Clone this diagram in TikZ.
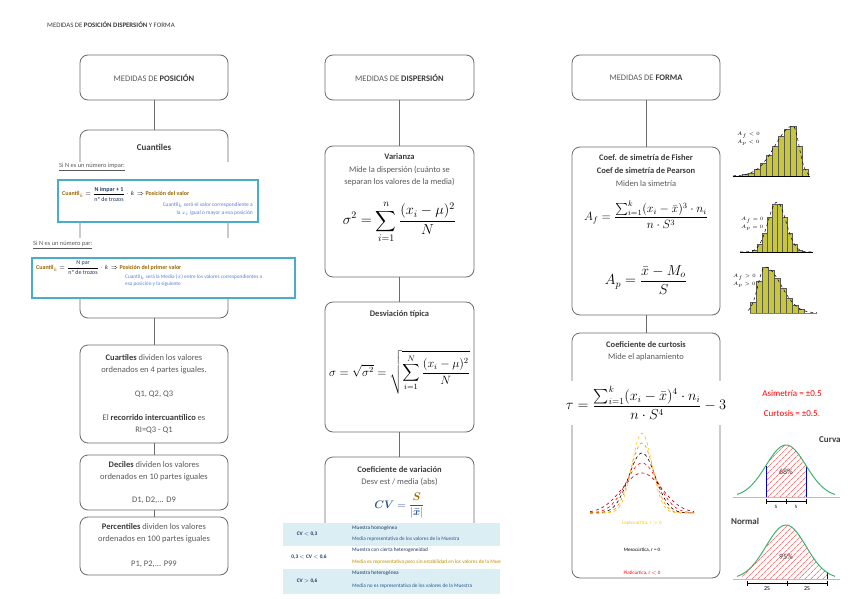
\documentclass[tikz,border=0pt]{standalone}
\usepackage{fontspec}
\setmainfont{Carlito}
\usepackage{amsmath}
\usetikzlibrary{patterns.meta}
\definecolor{bx}{HTML}{6B6B6B}
\definecolor{tg}{HTML}{595959}
\definecolor{td}{HTML}{3A3A3A}
\definecolor{bl}{HTML}{4BACC6}
\definecolor{navy}{HTML}{1F3864}
\definecolor{gold}{HTML}{9C6500}
\definecolor{lblue}{HTML}{5B7FD6}
\definecolor{cvb}{HTML}{2F5597}
\definecolor{lb}{HTML}{DAEEF3}
\definecolor{olv}{HTML}{C8C63A}
\definecolor{grn}{HTML}{3CB371}
\definecolor{amber}{HTML}{FFC000}
\definecolor{dgold}{HTML}{C09000}
\begin{document}
\begin{tikzpicture}[x=1pt,y=-1pt,
  mbox/.style={draw=bx,line width=0.8pt,rounded corners=8pt,inner sep=0pt,align=center,text=tg,font=\fontsize{8.5}{12}\selectfont},
  txt/.style={text=tg,font=\fontsize{8.5}{12}\selectfont,align=center,inner sep=0pt},
  hd/.style={text=td,font=\fontsize{8.5}{12}\selectfont\bfseries,inner sep=0pt,align=center},
  conn/.style={draw=bx,line width=0.8pt},
  fml/.style={inner sep=0pt,text=black},
  bbox/.style={draw=bl,line width=2.2pt,fill=white,inner sep=0pt},
  tiny/.style={inner sep=0pt,font=\fontsize{5}{6}\selectfont},
  tabc/.style={inner sep=0pt,font=\fontsize{5.3}{6}\selectfont,anchor=west},
  bar/.style={fill=olv,draw=black!65,line width=0.3pt},
  hcurve/.style={dashed,line width=0.5pt,black},
  kc/.style={dashed,line width=0.6pt},
]
\useasboundingbox (0,0) rectangle (848,599);
\clip (0,0) rectangle (848,599);

% title
\node[anchor=west,inner sep=0pt,font=\fontsize{6.8}{7}\selectfont,text=td] (ttl) at (47,25) {MEDIDAS DE \textbf{POSICIÓN DISPERSIÓN} Y FORMA};

% top boxes
\node[mbox,minimum width=148pt,minimum height=45pt] (pos) at (154,77.5) {MEDIDAS DE {\bfseries\color{td}POSICIÓN}};
\node[mbox,minimum width=149pt,minimum height=45pt] (dis) at (399.5,77.5) {MEDIDAS DE {\bfseries\color{td}DISPERSIÓN}};
\node[mbox,minimum width=148pt,minimum height=45pt] (for) at (646,77.5) {MEDIDAS DE {\bfseries\color{td}FORMA}};

% ---------- POSICION column
\node[mbox,minimum width=148pt,minimum height=188pt] (cua) at (154,224) {};
\draw[conn] (pos) -- (cua);
\node[hd,font=\fontsize{9}{11}\selectfont\bfseries] (cuat) at (154,147) {Cuantiles};
\fill[white] (74,162) rectangle (234,223);
\fill[white] (74,238) rectangle (234,298);

\node[tiny,anchor=west,text=tg,font=\fontsize{6.4}{7}\selectfont] (si1) at (59,167) {\underline{Si N es un número impar:}};
\node[bbox,minimum width=200pt,minimum height=42pt] (bb1) at (158,201) {};
\node[tiny,anchor=west,font=\fontsize{6}{7}\selectfont] (f1) at (62,194) {{\color{gold}\bfseries Cuantil$_k$} $=\dfrac{\textbf{\color{navy}N impar + 1}}{\text{\color{navy}nº de trozos}}\cdot k\Rightarrow$ {\color{gold}\bfseries Posición del valor}};
\node[tiny,anchor=east,align=right,text=lblue,font=\fontsize{5.5}{8}\selectfont] (f1b) at (253,209) {Cuantil$_k$ será el valor correspondiente a\\la $x_i$ igual o mayor a esa posición};

\node[tiny,anchor=west,text=tg,font=\fontsize{6.4}{7}\selectfont] (si2) at (33,245) {\underline{Si N es un número par:}};
\node[bbox,minimum width=263pt,minimum height=40pt] (bb2) at (163.5,278) {};
\node[tiny,anchor=west,font=\fontsize{6}{7}\selectfont] (f2) at (36,268) {{\color{gold}\bfseries Cuantil$_k$} $=\dfrac{\text{\color{navy}N par}}{\text{\color{navy}nº de trozos}}\cdot k\Rightarrow$ {\color{gold}\bfseries Posición del primer valor}};
\node[tiny,anchor=north west,align=left,text=lblue,font=\fontsize{5.3}{7.5}\selectfont] (f2b) at (125,274) {Cuantil$_k$ será la Media ($\bar{x}$) entre los valores correspondientes a\\esa posición y la siguiente};

\node[mbox,minimum width=148pt,minimum height=98pt] (cuar) at (154,394) {{\bfseries\color{td}Cuartiles} dividen los valores\\ordenados en 4 partes iguales.\\[12pt]Q1, Q2, Q3\\[12pt]El {\bfseries\color{td}recorrido intercuantílico} es\\RI=Q3 - Q1};
\node[mbox,minimum width=148pt,minimum height=55pt] (dec) at (154,482.5) {{\bfseries\color{td}Deciles} dividen los valores\\ordenados en 10 partes iguales\\[11pt]D1, D2,... D9};
\node[mbox,minimum width=148pt,minimum height=58pt] (per) at (154,546) {{\bfseries\color{td}Percentiles} dividen los valores\\ordenados en 100 partes iguales\\[13pt]P1, P2,... P99};
\draw[conn] (cua) -- (cuar);
\draw[conn] (cuar) -- (dec);
\draw[conn] (dec) -- (per);

% ---------- DISPERSION column
\node[mbox,minimum width=149pt,minimum height=131pt] (var) at (399.5,211.5) {};
\draw[conn] (dis) -- (var);
\node[hd] (vart) at (399.5,157) {Varianza};
\node[txt] (vars) at (399.5,176.5) {Mide la dispersión (cuánto se\\separan los valores de la media)};
\node[fml,font=\fontsize{14}{16}\selectfont] (varf) at (399.5,222) {$\displaystyle\sigma^2=\sum_{i=1}^{n}\frac{(x_i-\mu)^2}{N}$};

\node[mbox,minimum width=149pt,minimum height=130pt] (des) at (399.5,367) {};
\draw[conn] (var) -- (des);
\node[hd] (dest) at (399.5,314) {Desviación típica};
\node[fml,font=\fontsize{12}{14}\selectfont] (desf) at (399.5,372) {$\sigma=\sqrt{\sigma^2}=\sqrt{\displaystyle\sum_{i=1}^{N}\frac{(x_i-\mu)^2}{N}}$};

\node[mbox,minimum width=149pt,minimum height=103pt] (cv) at (399.5,508.5) {};
\draw[conn] (des) -- (cv);
\node[hd] (cvt) at (399.5,470) {Coeficiente de variación};
\node[txt] (cvs) at (399.5,482) {Desv est / media (abs)};
\node[fml,text=cvb,font=\fontsize{10.5}{12}\selectfont] (cvf) at (399.5,506) {$\boldsymbol{CV}=\dfrac{\textcolor{gold}{\boldsymbol{S}}}{\lvert\boldsymbol{\bar{x}}\rvert}$};

% table
\node[fill=lb,minimum width=217pt,minimum height=23pt,anchor=north west,inner sep=0pt] (r1) at (283,523) {};
\node[fill=white,minimum width=217pt,minimum height=23pt,anchor=north west,inner sep=0pt] (r2) at (283,546) {};
\node[fill=lb,minimum width=217pt,minimum height=25pt,anchor=north west,inner sep=0pt] (r3) at (283,569) {};
\begin{scope}
\clip (283,523) rectangle (500,594);
\node[tabc,anchor=center,text=navy,font=\fontsize{5.3}{6}\selectfont\bfseries] (c1) at (307,534.5) {CV $<$ 0,3};
\node[tabc,anchor=center,text=navy,font=\fontsize{5.3}{6}\selectfont\bfseries] (c2) at (309,557.5) {0,3 $<$ CV $<$ 0,6};
\node[tabc,anchor=center,text=navy,font=\fontsize{5.3}{6}\selectfont\bfseries] (c3) at (307,581) {CV $>$ 0,6};
\node[tabc,text=navy] (d1a) at (352,528) {Muestra homogénea};
\node[tabc,text=cvb] (d1b) at (352,539) {Media representativa de los valores de la Muestra};
\node[tabc,text=navy] (d2a) at (352,550) {Muestra con cierta heterogeneidad};
\node[tabc,text=dgold] (d2b) at (352,562) {Media es representativa pero sin estabilidad en los valores de la Muestra};
\node[tabc,text=navy] (d3a) at (352,573) {Muestra heterogénea};
\node[tabc,text=cvb] (d3b) at (352,586) {Media no es representativa de los valores de la Muestra};
\end{scope}

% ---------- FORMA column
\node[mbox,minimum width=148pt,minimum height=168pt] (fis) at (646,231) {};
\draw[conn] (for) -- (fis);
\node[hd,font=\fontsize{8.5}{13}\selectfont\bfseries] (fist) at (646,164.5) {Coef. de simetría de Fisher\\Coef de simetría de Pearson};
\node[txt] (fiss) at (646,184) {Miden la simetría};
\node[fml,font=\fontsize{12}{14}\selectfont] (fisf) at (646,215) {$A_f=\dfrac{\sum_{i=1}^{k}(x_i-\bar{x})^3\cdot n_i}{n\cdot S^3}$};
\node[fml,font=\fontsize{14.5}{16}\selectfont] (pef) at (646,280) {$A_p=\dfrac{\bar{x}-M_o}{S}$};

\node[mbox,minimum width=148pt,minimum height=245pt] (cur) at (646,455.5) {};
\draw[conn] (fis) -- (cur);
\node[hd] (curt) at (646,345) {Coeficiente de curtosis};
\node[txt] (curs) at (646,357) {Mide el aplanamiento};
\node[fml,fill=white,inner xsep=2pt,inner ysep=5pt,font=\fontsize{13.5}{15}\selectfont] (curf) at (646,403) {$\tau=\dfrac{\sum_{i=1}^{k}(x_i-\bar{x})^4\cdot n_i}{n\cdot S^4}-3$};

% kurtosis curves
\foreach \A/\sg/\cc in {40/20/red!60!black, 50/16/red, 60/13.3/black, 70/11.4/orange, 80/10/amber}{
  \draw[kc,\cc] plot[domain=-52:52,samples=61,smooth] ({642+\x},{513-\A*exp(0-(\x)*(\x)/(2*\sg*\sg))});
}
\node[tiny,text=amber] (lep) at (642,523) {Leptocúrtica, r $>$ 0};
\node[tiny,text=black] (mes) at (642,550) {Mesocúrtica, r = 0};
\node[tiny,text=red] (pla) at (642,573) {Platicúrtica, r $<$ 0};

% histograms
% 1: left skew
\foreach \i in {0,...,10}{
  \pgfmathsetmacro\myx{742+6*\i}
  \pgfmathsetmacro\myd{\myx+3-793}
  \pgfmathsetmacro\mys{ifthenelse(\myd<0,18,6)}
  \pgfmathsetmacro\myh{50*exp(0-\myd*\myd/(2*\mys*\mys))}
  \path[bar] (\myx,176) rectangle ++(6,-\myh);
}
\draw[hcurve] plot[domain=733:793,samples=30,smooth] (\x,{176-50*exp(0-(\x-793)*(\x-793)/648)}) -- plot[domain=793:810,samples=12,smooth] (\x,{176-50*exp(0-(\x-793)*(\x-793)/72)});
\draw[black,line width=0.6pt] (733,176) -- (810,176);
\node[tiny,anchor=west,font=\fontsize{4.5}{5}\selectfont] (h1a) at (737,135) {$A_f<0$};
\node[tiny,anchor=west,font=\fontsize{4.5}{5}\selectfont] (h1b) at (737,143) {$A_p<0$};
% 2: symmetric
\foreach \i in {0,...,9}{
  \pgfmathsetmacro\myx{752+5*\i}
  \pgfmathsetmacro\myd{\myx+2.5-777}
  \pgfmathsetmacro\myh{50*exp(0-\myd*\myd/162)}
  \path[bar] (\myx,252) rectangle ++(5,-\myh);
}
\draw[hcurve] plot[domain=740:813,samples=40,smooth] (\x,{252-50*exp(0-(\x-777)*(\x-777)/162)});
\draw[black,line width=0.6pt] (740,252) -- (813,252);
\node[tiny,anchor=west,font=\fontsize{4.5}{5}\selectfont] (h2a) at (741,220) {$A_f=0$};
\node[tiny,anchor=west,font=\fontsize{4.5}{5}\selectfont] (h2b) at (741,228) {$A_p=0$};
% 3: right skew
\foreach \i in {0,...,8}{
  \pgfmathsetmacro\myx{750+6*\i}
  \pgfmathsetmacro\myd{\myx+3-765}
  \pgfmathsetmacro\mys{ifthenelse(\myd<0,7,16)}
  \pgfmathsetmacro\myh{46*exp(0-\myd*\myd/(2*\mys*\mys))}
  \path[bar] (\myx,313) rectangle ++(6,-\myh);
}
\draw[hcurve] plot[domain=748:765,samples=12,smooth] (\x,{313-46*exp(0-(\x-765)*(\x-765)/98)}) -- plot[domain=765:817,samples=30,smooth] (\x,{313-46*exp(0-(\x-765)*(\x-765)/512)});
\draw[black!50,line width=0.6pt] (750,313) -- (817,313);
\node[tiny,anchor=west,font=\fontsize{4.5}{5}\selectfont] (h3a) at (733,277) {$A_f>0$};
\node[tiny,anchor=west,font=\fontsize{4.5}{5}\selectfont] (h3b) at (733,285) {$A_p>0$};

% red remarks
\node[inner sep=0pt,text=red,font=\fontsize{9}{10}\selectfont] (asr) at (792,393) {Asimetría = ±0.5};
\node[inner sep=0pt,text=red,font=\fontsize{9}{10}\selectfont] (cur2) at (792,413) {Curtosis = ±0.5{\color{lblue}.}};
\node[inner sep=0pt,anchor=west,text=td,font=\fontsize{9}{10}\selectfont\bfseries] (cva) at (819,440) {Curva};
\node[inner sep=0pt,anchor=west,text=td,font=\fontsize{9}{10}\selectfont\bfseries] (nor) at (731,521) {Normal};

% normal curve 1
\fill[pattern={Lines[angle=45,distance=4pt,line width=0.5pt]},pattern color=red!80] (766,497) -- plot[domain=-20:20,samples=30,smooth] ({786+\x},{497-52*exp(0-(\x)*(\x)/800)}) -- (806,497) -- cycle;
\draw[amber,line width=0.8pt] (733,497) -- (840,497);
\draw[blue!70!black,line width=0.7pt] (766,497) -- (766,465.5);
\draw[blue!70!black,line width=0.7pt] (806,497) -- (806,465.5);
\draw[grn,line width=1pt] plot[domain=-49:49,samples=60,smooth] ({786+\x},{497-52*exp(0-(\x)*(\x)/800)});
\draw[black,line width=0.6pt] (766,501) -- (806,501) (766,498.5) -- (766,503.5) (786,498.5) -- (786,503.5) (806,498.5) -- (806,503.5);
\node[inner sep=0pt,font=\fontsize{8}{9}\selectfont,text=td] (p68) at (786,472) {68\%};
\node[inner sep=0pt,font=\fontsize{5}{6}\selectfont\rmfamily] (s1) at (776,507) {S};
\node[inner sep=0pt,font=\fontsize{5}{6}\selectfont\rmfamily] (s2) at (796,507) {S};

% normal curve 2
\fill[pattern={Lines[angle=45,distance=4pt,line width=0.5pt]},pattern color=red!80] (742,579) -- plot[domain=-44:41,samples=40,smooth] ({786+\x},{579-54*exp(0-(\x)*(\x)/800)}) -- (827,579) -- cycle;
\draw[amber,line width=0.8pt] (733,579) -- (840,579);
\draw[blue!70!black,line width=0.7pt] (827,579) -- (827,571.7);
\draw[grn,line width=1pt] plot[domain=-49:49,samples=60,smooth] ({786+\x},{579-54*exp(0-(\x)*(\x)/800)});
\draw[black,line width=0.6pt] (747,583) -- (827,583) (747,580.5) -- (747,585.5) (787,580.5) -- (787,585.5) (827,580.5) -- (827,585.5);
\node[inner sep=0pt,font=\fontsize{8}{9}\selectfont,text=td] (p95) at (786,557) {95\%};
\node[inner sep=0pt,font=\fontsize{6}{7}\selectfont\rmfamily] (t1) at (767,589) {2S};
\node[inner sep=0pt,font=\fontsize{6}{7}\selectfont\rmfamily] (t2) at (807,589) {2S};
\end{tikzpicture}
\end{document}
